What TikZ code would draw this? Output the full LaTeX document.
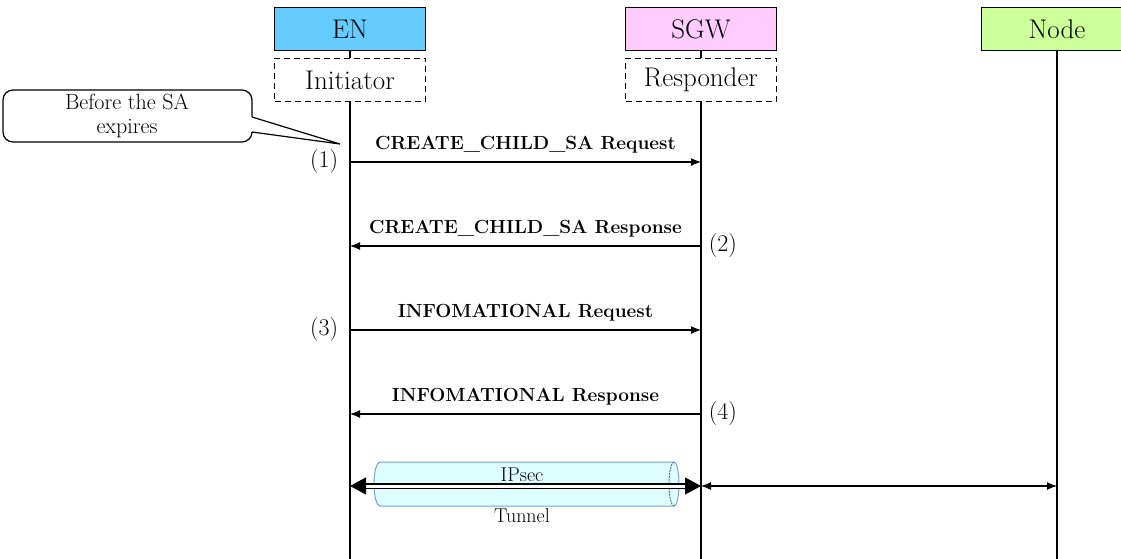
\documentclass[tikz,border=0pt]{standalone}
\usepackage{tikz}
\usepackage{amsmath}
\usepackage{color}
\usetikzlibrary{positioning,arrows.meta}

\definecolor{encol}{HTML}{66CCFF}
\definecolor{sgwcol}{HTML}{FFCCFF}
\definecolor{nodecol}{HTML}{CCFF99}
\definecolor{tubefill}{HTML}{DDFFFF}
\definecolor{tubeline}{HTML}{7F9FD6}

\begin{document}
\begin{tikzpicture}[x=1pt, y=-1pt, line width=1.2pt,
  box/.style={draw, minimum width=151pt, minimum height=43pt, font=\fontsize{27}{30}\selectfont},
  role/.style={box, dash pattern=on 6pt off 4pt},
  msg/.style={-{Latex[length=10pt,width=8pt]}},
  txt/.style={font=\bfseries\fontsize{19}{22}\selectfont},
  num/.style={font=\fontsize{24}{28}\selectfont},
  small/.style={font=\fontsize{20}{23}\selectfont}]
 \useasboundingbox (0,0) rectangle (1121,559);
 % entities
 \node (en) [box, fill=encol] at (350,29) {EN};
 \node (sgw) [box, fill=sgwcol] at (701,29) {SGW};
 \node (nd) [box, fill=nodecol] at (1057,29) {Node};
 \node (ini) [role] at (350,80) {Initiator};
 \node (res) [role] at (701,80) {Responder};
 \coordinate (enb) at (350,559);
 \coordinate (sgwb) at (701,559);
 \coordinate (ndb) at (1057,559);
 \draw (en) -- (ini);
 \draw (sgw) -- (res);
 \draw (ini) -- (enb);
 \draw (res) -- (sgwb);
 \draw (nd) -- (ndb);
 % messages
 \coordinate (en1) at (350,162);  \coordinate (sgw1) at (701,162);
 \coordinate (en2) at (350,246);  \coordinate (sgw2) at (701,246);
 \coordinate (en3) at (350,330);  \coordinate (sgw3) at (701,330);
 \coordinate (en4) at (350,414);  \coordinate (sgw4) at (701,414);
 \draw [msg] (en1) -- node [txt, above=5pt] {CREATE\_CHILD\_SA Request} (sgw1);
 \draw [msg] (sgw2) -- node [txt, above=5pt] {CREATE\_CHILD\_SA Response} (en2);
 \draw [msg] (en3) -- node [txt, above=5pt] {INFOMATIONAL Request} (sgw3);
 \draw [msg] (sgw4) -- node [txt, above=5pt] {INFOMATIONAL Response} (en4);
 \node (n1) [num, left=8pt of en1] {(1)};
 \node (n2) [num, right=4pt of sgw2] {(2)};
 \node (n3) [num, left=8pt of en3] {(3)};
 \node (n4) [num, right=4pt of sgw4] {(4)};
 % tunnel
 \draw [draw=tubeline, fill=tubefill, line width=1pt] (380,462) -- (674,462)
   arc [start angle=90, end angle=-90, x radius=5pt, y radius=22pt] -- (380,506)
   arc [start angle=270, end angle=90, x radius=6pt, y radius=22pt] -- cycle;
 \draw [tubeline!70!black, line width=1pt, dash pattern=on 2pt off 1pt] (674,462)
   arc [start angle=90, end angle=270, x radius=5pt, y radius=22pt];
 \coordinate (en5) at (350,486);
 \coordinate (sgw5) at (701,486);
 \coordinate (nd5) at (1057,486);
 \draw [double, double distance=3pt, {Triangle[length=16pt,width=17pt]}-{Triangle[length=16pt,width=17pt]}] (en5) -- (sgw5);
 \draw [{Latex[length=10pt,width=8pt]}-{Latex[length=10pt,width=8pt]}] (sgw5) -- (nd5);
 \node (ipsec) [small, anchor=base] at (522,481) {IPsec};
 \node (tunnel) [small, anchor=base] at (522,522) {Tunnel};
 % callout
 \draw [rounded corners=10pt, fill=white] (3,90) rectangle (252,142);
 \coordinate (tip) at (340,144);
 \fill [white] (249,116.1) -- (tip) -- (249,131.6) -- cycle;
 \draw (252,117) -- (tip) -- (252,132);
 \node (note) [align=center, font=\fontsize{22}{24}\selectfont] at (127,116) {Before the SA\\expires};
\end{tikzpicture}
\end{document}
